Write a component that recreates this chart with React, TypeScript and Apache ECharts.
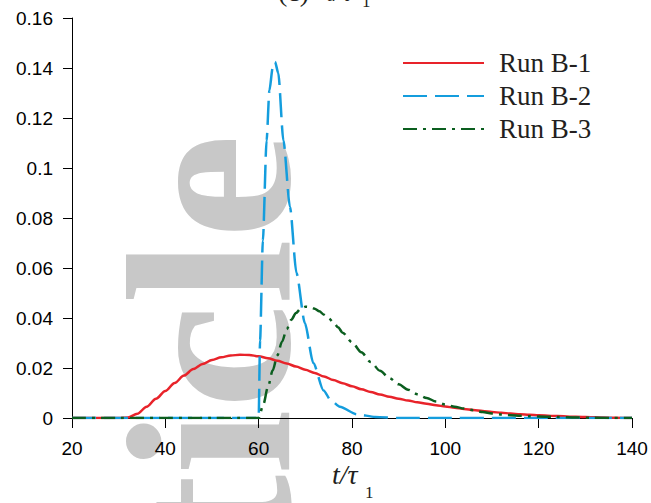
import React, { useEffect, useRef } from "react";
import * as echarts from "echarts";

// ---- data ----
const seriesNames = ["Run B-1", "Run B-2", "Run B-3"];
const seriesColors = ["#e8232a", "#149ddd", "#0b5e1f"];

const xTicks = [20, 40, 60, 80, 100, 120, 140];
const yTickLabels = ["0", "0.02", "0.04", "0.06", "0.08", "0.1", "0.12", "0.14", "0.16"];

const tB1 = [20, 24, 28, 30, 32, 34, 36, 38, 40, 42, 44, 46, 48, 50, 52, 54, 56, 58, 60, 62, 64, 66, 68, 70, 72, 74, 76, 78, 80, 82, 84, 86, 88, 90, 92, 94, 96, 98, 100, 102, 104, 106, 108, 110, 112, 114, 116, 118, 120, 124, 128, 132, 136, 140];
const vB1 = [0, 0, 0, 0, 0.0002, 0.0017, 0.0045, 0.0077, 0.0108, 0.014, 0.017, 0.0196, 0.0216, 0.0232, 0.0243, 0.025, 0.0253, 0.0252, 0.0247, 0.0239, 0.0229, 0.0218, 0.0206, 0.0193, 0.018, 0.0166, 0.0152, 0.0139, 0.0127, 0.0115, 0.0104, 0.0094, 0.0085, 0.0077, 0.007, 0.0063, 0.0057, 0.0051, 0.0046, 0.0041, 0.0036, 0.0032, 0.0028, 0.0024, 0.0021, 0.0018, 0.0015, 0.0013, 0.0011, 0.0008, 0.0005, 0.0003, 0.0001, 0];

const tB2 = [20, 30, 40, 50, 56, 58, 59, 60, 60.3, 60.9, 61.7, 62.3, 63, 63.5, 64.2, 65.3, 66.7, 68.1, 69.9, 71.7, 73.9, 75.5, 77.4, 81, 85, 90, 100, 110, 120, 130, 140];
const vB2 = [0, 0, 0, 0, 0, 0, 0, 0, 0.031, 0.071, 0.111, 0.131, 0.14, 0.1425, 0.138, 0.111, 0.0845, 0.058, 0.038, 0.022, 0.011, 0.007, 0.0045, 0.0015, 0.0004, 0, 0, 0, 0, 0, 0];

const tB3 = [20, 30, 40, 50, 56, 58, 59, 60, 61, 62, 63, 64, 65, 66, 67, 68, 69, 70, 71, 72, 73, 74, 75, 76, 77, 78, 80, 82, 84, 86, 88, 90, 92, 94, 96, 98, 100, 102, 104, 106, 108, 110, 112, 114, 116, 118, 120, 124, 128, 132, 136, 140];
const vB3 = [0, 0, 0, 0, 0, 0, 0, 0, 0.0055, 0.0125, 0.019, 0.025, 0.0305, 0.0355, 0.0393, 0.042, 0.0437, 0.0445, 0.0444, 0.0437, 0.0427, 0.0413, 0.0399, 0.0383, 0.0363, 0.0341, 0.0303, 0.0263, 0.0224, 0.0189, 0.016, 0.0135, 0.0113, 0.0095, 0.008, 0.0066, 0.0054, 0.0045, 0.0038, 0.0031, 0.0024, 0.0018, 0.0014, 0.0011, 0.0009, 0.0007, 0.0006, 0.0004, 0.0002, 0.0001, 0, 0];

const pairs = (t: number[], v: number[]) => t.map((x, i) => [x, v[i]]);

export default function App() {
  const ref = useRef<HTMLDivElement>(null);
  useEffect(() => {
    if (!ref.current) return;
    const chart = echarts.init(ref.current, undefined, { renderer: "svg" });
    const serifName = "Liberation Serif";
    const serif = '"Liberation Serif", "Times New Roman", serif';
    const sans = '"Liberation Sans", Arial, sans-serif';
    const lineTypes: any[] = ["solid", [24, 8], [14, 6, 3, 6]];
    const smooths = [0.3, 0.25, 0.3];
    const datas = [pairs(tB1, vB1), pairs(tB2, vB2), pairs(tB3, vB3)];
    const txt = (text: string, x: number, y: number, size: number, italic: boolean, extra: any = {}) => {
      const { fill, align, bold, ...rest } = extra;
      return {
        type: "text",
        x,
        y,
        ...rest,
        style: {
          text,
          font: (italic ? "italic " : "") + (bold ? "bold " : "") + size + "px " + serifName,
          fontFamily: serifName,
          fontSize: size,
          fontStyle: italic ? "italic" : "normal",
          fontWeight: bold ? "bold" : "normal",
          fill: fill || "#231f20",
          align: align || "left",
          verticalAlign: "middle",
        },
      };
    };
    chart.setOption({
      animation: false,
      backgroundColor: "#ffffff",
      grid: { left: 72, right: 19, top: 18, bottom: 85, containLabel: false, outerBoundsMode: "none" },
      xAxis: {
        type: "value",
        min: xTicks[0],
        max: xTicks[xTicks.length - 1],
        interval: 20,
        axisLine: { show: true, onZero: true, lineStyle: { color: "#000", width: 1 } },
        axisTick: { show: true, length: 10, lineStyle: { color: "#000", width: 1 } },
        axisLabel: { color: "#000", fontFamily: sans, fontSize: 19, margin: 21 },
        splitLine: { show: false },
      },
      yAxis: {
        type: "value",
        min: 0,
        max: 0.16,
        interval: 0.02,
        axisLine: { show: true, lineStyle: { color: "#000", width: 1 } },
        axisTick: { show: true, length: 9, lineStyle: { color: "#000", width: 1 } },
        axisLabel: {
          color: "#000",
          fontFamily: sans,
          fontSize: 19,
          margin: 19,
          formatter: (_v: number, idx: number) => yTickLabels[idx],
        },
        splitLine: { show: false },
      },
      legend: {
        orient: "vertical",
        left: 397,
        top: 43,
        itemWidth: 81,
        itemHeight: 14,
        itemGap: 3,
        align: "left",
        data: seriesNames,
        itemStyle: { opacity: 0 },
        textStyle: { fontFamily: serif, fontSize: 27, color: "#231f20", lineHeight: 30, padding: [0, 0, 0, 10] },
      },
      series: seriesNames.map((name, i) => ({
        name,
        type: "line",
        data: datas[i],
        symbol: "none",
        showSymbol: false,
        smooth: smooths[i],
        smoothMonotone: "x",
        z: 2 + i,
        lineStyle: { color: seriesColors[i], width: 2.5, type: lineTypes[i] },
        itemStyle: { color: seriesColors[i] },
      })),
      graphic: [
        txt("Article", 209, 134, 236, false, { rotation: Math.PI / 2, z: -10, silent: true, fill: "#c8c8c8", align: "right", bold: true }),
        txt("(c)", 278, -8.5, 28, false),
        txt("t/τ", 326, -8.5, 28, true),
        txt("1", 362, 1.3, 17, false),
        txt("t/τ", 332, 474.5, 28, true),
        txt("1", 365, 492, 17, false),
      ],
    });
    return () => chart.dispose();
  }, []);
  return <div ref={ref} style={{ position: "fixed", left: 0, top: 0, width: 651, height: 503 }} />;
}
